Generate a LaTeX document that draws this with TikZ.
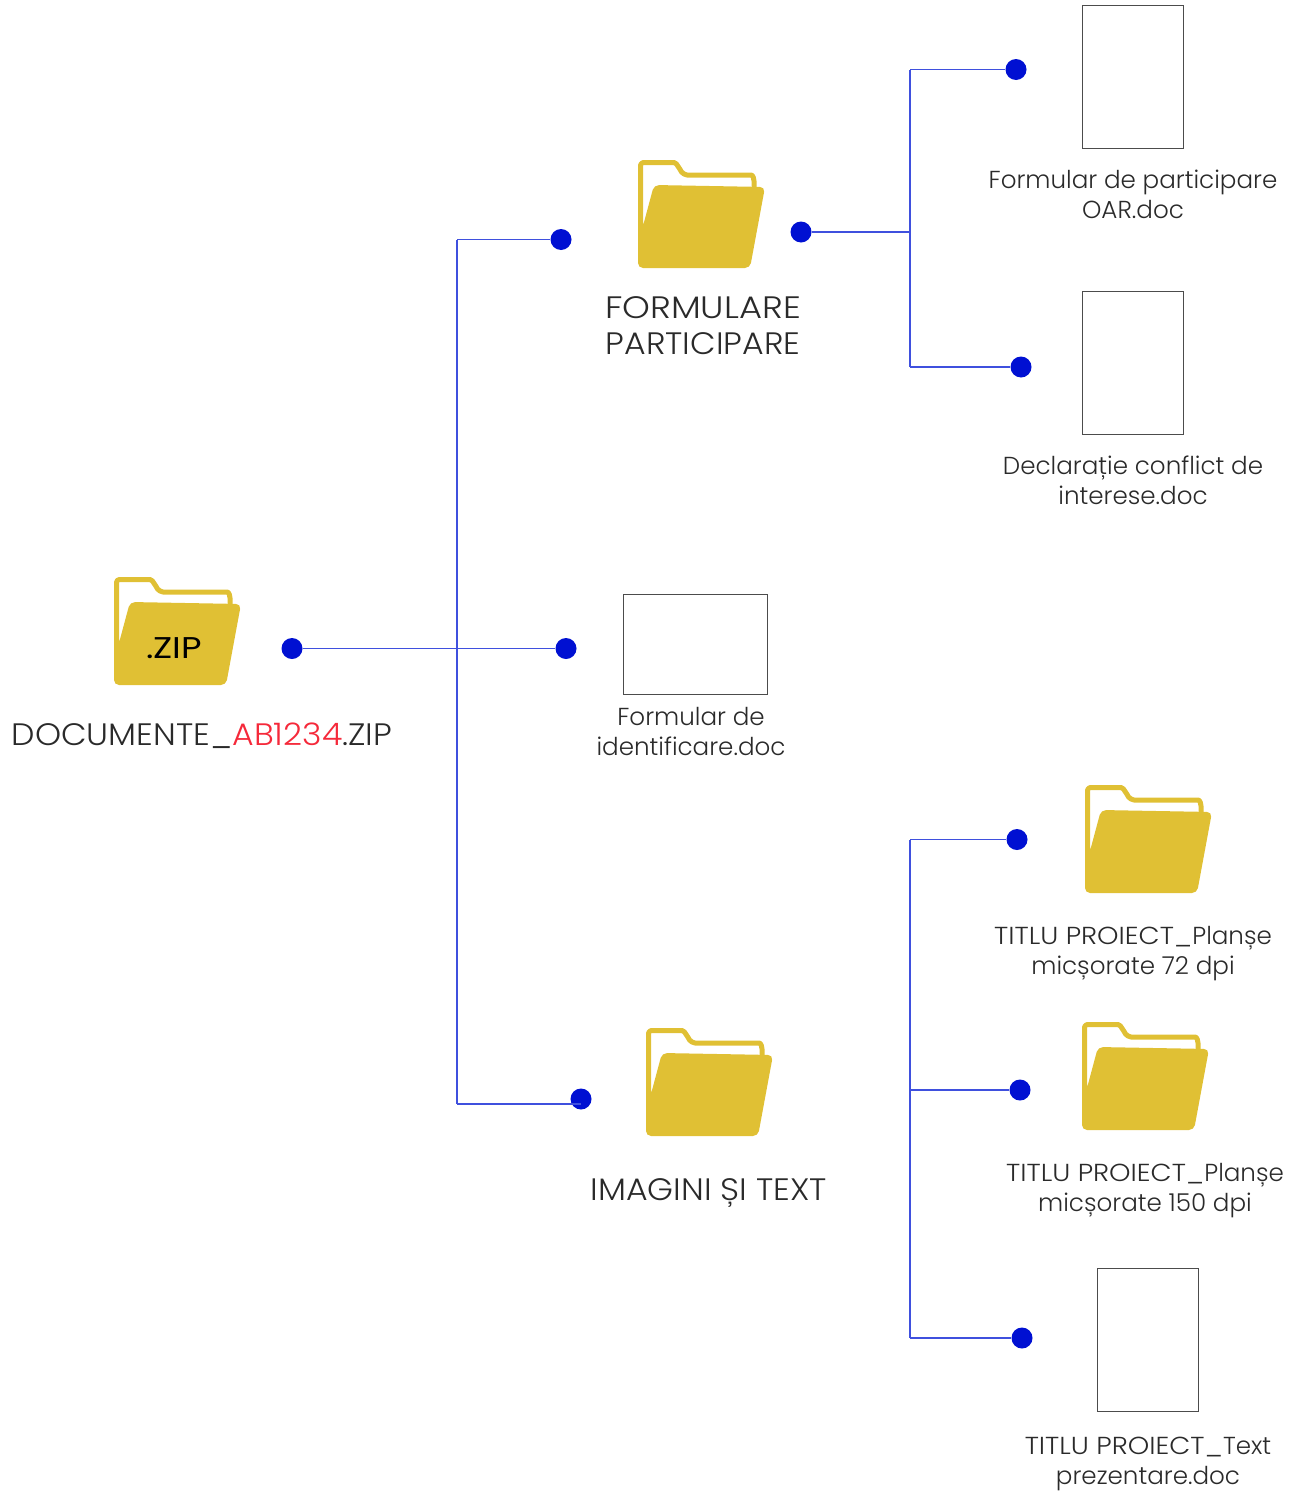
\documentclass[tikz,border=0pt]{standalone}
\usepackage{xcolor}
\usepackage{fontspec}
\setmainfont{Poppins Light}
\newfontfamily\widefont[FakeStretch=1.11]{Poppins Light}
\newfontfamily\bigfont[FakeStretch=1.07]{Poppins Light}
\newfontfamily\formfont[FakeStretch=1.14]{Poppins Light}
\newfontfamily\zipfont[FakeStretch=1.18]{Poppins}
\usetikzlibrary{calc}
\usetikzlibrary{positioning}

\definecolor{folderyellow}{HTML}{E0C034}
\definecolor{dotblue}{HTML}{0010D2}
\definecolor{lineblue}{HTML}{3F50DE}
\definecolor{labelgray}{HTML}{2A2A2A}
\definecolor{codered}{HTML}{F5293A}

\tikzset{
    dot/.style={circle, fill=dotblue, inner sep=0pt, minimum size=21pt},
    wire/.style={lineblue, line width=1.15pt},
    docbox/.style={draw=black!70, line width=1.2pt, fill=white, inner sep=0pt,
        minimum width=101pt, minimum height=143pt},
    biglabel/.style={labelgray, align=center, inner sep=0pt,
        font=\bigfont\fontsize{31}{36}\selectfont},
    smalllabel/.style={labelgray, align=center, inner sep=0pt,
        font=\fontsize{24.6}{30}\selectfont},
    pics/folder/.style={code={
        % back sheet, then the front flap
        \draw[folderyellow, line width=5pt, line join=round, rounded corners=3pt]
            (2.5,85) -- (2.5,2.5) -- (33,2.5)
            .. controls (38,2.5) and (39,5) .. (42,9)
            .. controls (44,13) and (47,15) .. (52,15)
            -- (110,15) .. controls (115,15) and (116,19) .. (116,24) -- (116,30);
        \fill[folderyellow, rounded corners=5pt]
            (16,25) -- (127,27) -- (112,108) -- (0,108) -- (0,70) -- (5,66) -- cycle;
    }},
}

\begin{document}
\begin{tikzpicture}[x=1pt, y=-1pt]

    \useasboundingbox (0,0) rectangle (1296,1491);

    % folders
    \pic at (114,577) {folder};
    \pic at (638,160) {folder};
    \pic at (646,1028) {folder};
    \pic at (1085,785) {folder};
    \pic at (1082,1022) {folder};

    \node[inner sep=0pt, font=\zipfont\fontsize{30}{32}\selectfont] (ziptext) at (174,648) {.ZIP};

    % documents
    \node[docbox] (D1) at (1133,77) {};
    \node[docbox] (D2) at (1133,363) {};
    \node[docbox, minimum width=144pt, minimum height=100pt] (D3) at (695.5,644.5) {};
    \node[docbox] (D4) at (1148,1340) {};

    % labels
    \node[biglabel] (Lzip) at (202,736)
        {DOCUMENTE\_\textcolor{codered}{AB1234}.ZIP};
    \node[biglabel] (Lform) at (703,326) {{\formfont FORMULARE}\\PARTICIPARE};
    \node[biglabel] (Limg) at (709,1193) {IMAGINI ȘI TEXT};
    \node[smalllabel] (Ld1) at (1133,194) {Formular de participare\\OAR.doc};
    \node[smalllabel] (Ld2) at (1133,480) {Declarație conflict de\\interese.doc};
    \node[smalllabel] (Ld3) at (691,731) {Formular de\\identificare.doc};
    \node[smalllabel] (Lp1) at (1133,954) {{\widefont TITLU PROIECT\_}Planșe\\micșorate 72 dpi};
    \node[smalllabel] (Lp2) at (1145,1191) {{\widefont TITLU PROIECT\_}Planșe\\micșorate 150 dpi};
    \node[smalllabel] (Ld4) at (1148,1464) {{\widefont TITLU PROIECT\_}Text\\prezentare.doc};

    % dots
    \node[dot] (root) at (292,648.5) {};
    \node[dot] (A1) at (561,239.5) {};
    \node[dot] (A2) at (566,648.5) {};
    \node[dot] (A3) at (581,1099) {};
    \node[dot] (A4) at (801,232) {};
    \node[dot] (B1) at (1016,69.5) {};
    \node[dot] (B2) at (1021,367) {};
    \node[dot] (C1) at (1017,839.5) {};
    \node[dot] (C2) at (1020,1090) {};
    \node[dot] (C3) at (1022,1338) {};

    % junctions
    \coordinate (J1) at (457,239.5);
    \coordinate (J3) at (457,1104);
    \coordinate (J4) at (910,232);
    \coordinate (K1) at (910,69.5);
    \coordinate (K2) at (910,367);
    \coordinate (K3) at (910,839.5);
    \coordinate (K4) at (910,1090);
    \coordinate (K5) at (910,1338);
    \coordinate (E3) at (581,1104);

    \begin{scope}[wire]
        \draw (root) -- (A2);
        \draw (J1) -- (J3);
        \draw (J1) -- (A1);
        \draw (J3) -- (E3);
        \draw (A4) -- (J4);
        \draw (K1) -- (K2);
        \draw (K1) -- (B1);
        \draw (K2) -- (B2);
        \draw (K3) -- (K5);
        \draw (K3) -- (C1);
        \draw (K4) -- (C2);
        \draw (K5) -- (C3);
    \end{scope}

\end{tikzpicture}
\end{document}
